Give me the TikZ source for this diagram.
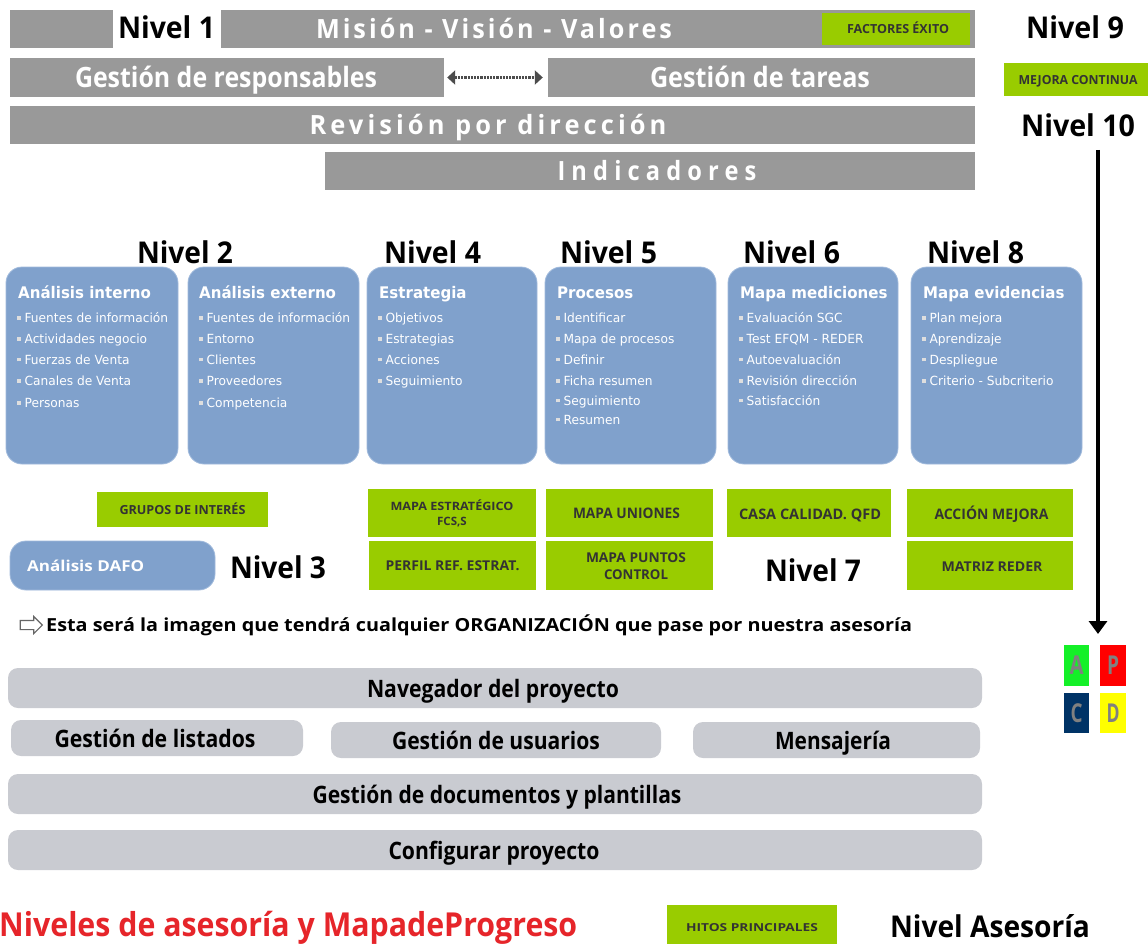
\documentclass[tikz,border=0pt]{standalone}
\usepackage{graphicx}
\usepackage{fontspec}
\setmainfont{Open Sans}
\newfontfamily\cardtitlef[FakeStretch=0.94]{DejaVu Sans}
\newfontfamily\carditemf[FakeStretch=0.97]{DejaVu Sans}
\newfontfamily\barf[LetterSpace=12]{Open Sans}
\usetikzlibrary{arrows.meta,shapes.arrows}

% colours
\definecolor{bargrey}{RGB}{153,153,153}
\definecolor{lime}{RGB}{153,204,0}
\definecolor{tagdark}{RGB}{51,51,51}
\definecolor{cardblue}{RGB}{128,161,204}
\definecolor{cardedge}{RGB}{160,186,220}
\definecolor{bulgrey}{RGB}{222,222,222}
\definecolor{navgrey}{RGB}{201,203,209}
\definecolor{titlered}{RGB}{230,37,42}
\definecolor{pdcaA}{RGB}{20,240,40}
\definecolor{pdcaP}{RGB}{255,0,0}
\definecolor{pdcaC}{RGB}{0,51,102}
\definecolor{pdcaD}{RGB}{255,255,0}
\definecolor{pdcaletter}{RGB}{128,128,128}

% squeeze or widen a text horizontally to a given width (in pt)
\newlength\fitlen
\newcommand\fitw[2]{\settowidth{\fitlen}{#2}\scalebox{\fpeval{#1/\fitlen}}[1]{#2}}
\newcommand\cardbullet{\textcolor{bulgrey}{\rule[2.7pt]{3.6pt}{3.6pt}}\hspace{3.8pt}}

\tikzset{
  bar/.style={fill=bargrey, inner sep=0pt},
  bartext/.style={text=white, inner sep=0pt, anchor=base, font=\barf\bfseries\fontsize{26.5}{28}\selectfont},
  bigbar/.style={text=white, inner sep=0pt, anchor=base, font=\bfseries\fontsize{28}{30}\selectfont},
  level/.style={inner sep=0pt, anchor=base, font=\bfseries\fontsize{30}{32}\selectfont},
  tagbox/.style={fill=lime, inner sep=0pt},
  tagtext/.style={text=tagdark, inner sep=0pt, anchor=base, font=\bfseries\fontsize{#1}{#1}\selectfont},
  card/.style={fill=cardblue, draw=cardedge, line width=0.8pt, rounded corners=16pt, inner sep=0pt},
  cardtitle/.style={text=white, inner sep=0pt, anchor=base west, font=\cardtitlef\bfseries\fontsize{16}{18}\selectfont},
  carditem/.style={text=white, inner sep=0pt, anchor=base west, font=\carditemf\fontsize{12.6}{14}\selectfont},
  navbox/.style={fill=navgrey, rounded corners=10pt, inner sep=0pt},
  navtext/.style={inner sep=0pt, anchor=base, font=\bfseries\fontsize{24}{26}\selectfont},
  pdcabox/.style={inner sep=0pt, text=pdcaletter, font=\bfseries\fontsize{26}{26}\selectfont},
  link/.style={densely dotted, line width=2.2pt, draw=black!70,
    arrows={Triangle[width=14pt,length=8pt]-Triangle[width=14pt,length=8pt]},
    shorten <=3pt, shorten >=5pt},
  flow/.style={line width=4pt, arrows={-Triangle[width=18pt,length=13pt]}},
}

\begin{document}
\begin{tikzpicture}[x=1pt, y=-1pt]
\useasboundingbox (0,0) rectangle (1148,943);
\fill[white] (0,0) rectangle (1148,943);

% ---------- top band ----------
\node[bar, minimum width=103, minimum height=38] (b0) at (61.5,29) {};
\node[level] (n1) at (166.5,38.5) {\fitw{97}{Nivel 1}};
\node[bar, minimum width=754, minimum height=38] (mvv) at (598,29) {};
\node[bartext] (mvvt) at (494,38.5) {\fitw{356}{Misión - Visión - Valores}};
\node[tagbox, minimum width=148, minimum height=32] (fe) at (896,29) {};
\node[tagtext=12.5] (fet) at (898,33.5) {\fitw{102}{FACTORES ÉXITO}};
\node[level] (n9) at (1075,38.5) {\fitw{98}{Nivel 9}};

\node[bar, minimum width=434, minimum height=39] (gr) at (227,77.5) {};
\node[bigbar] (grt) at (226,87.5) {\fitw{302}{Gestión de responsables}};
\node[bar, minimum width=427, minimum height=39] (gt) at (761.5,77.5) {};
\node[bigbar] (gtt) at (760,87.5) {\fitw{220}{Gestión de tareas}};
\draw[link] (gr) -- (gt);
\node[tagbox, minimum width=144, minimum height=33] (mc) at (1076,79.5) {};
\node[tagtext=12.5] (mct) at (1078,84) {\fitw{119}{MEJORA CONTINUA}};

\node[bar, minimum width=965, minimum height=38] (rd) at (492.5,125) {};
\node[bartext] (rdt) at (488,134.5) {\addfontfeatures{LetterSpace=16}\fitw{357}{Revisión por dirección}};
\node[level] (n10) at (1078,136.5) {\fitw{114}{Nivel 10}};

\node[bar, minimum width=650, minimum height=38] (ind) at (650,171) {};
\node[bartext] (indt) at (657,180.5) {\addfontfeatures{LetterSpace=26}\fitw{199}{Indicadores}};

% ---------- level headings ----------
\node[level] (n2) at (185,263.5) {\fitw{96}{Nivel 2}};
\node[level] (n4) at (432.5,263.5) {\fitw{97}{Nivel 4}};
\node[level] (n5) at (608.5,263.5) {\fitw{97}{Nivel 5}};
\node[level] (n6) at (791.5,263.5) {\fitw{97}{Nivel 6}};
\node[level] (n8) at (975.5,263.5) {\fitw{97}{Nivel 8}};

% ---------- cards ----------
\node[card, minimum width=172, minimum height=197] (c1) at (92,365.5) {};
\node[card, minimum width=171, minimum height=197] (c2) at (273.5,365.5) {};
\node[card, minimum width=170, minimum height=197] (c3) at (452,365.5) {};
\node[card, minimum width=171, minimum height=197] (c4) at (630.5,365.5) {};
\node[card, minimum width=170, minimum height=197] (c5) at (813,365.5) {};
\node[card, minimum width=171, minimum height=197] (c6) at (996.5,365.5) {};

\node[cardtitle] (c1t) at (18,298.3) {Análisis interno};
\node[cardtitle] (c2t) at (199,298.3) {Análisis externo};
\node[cardtitle] (c3t) at (379,298.3) {Estrategia};
\node[cardtitle] (c4t) at (557,298.3) {Procesos};
\node[cardtitle] (c5t) at (740,298.3) {Mapa mediciones};
\node[cardtitle] (c6t) at (923,298.3) {Mapa evidencias};

\foreach \yy/\t [count=\k] in {322.7/Fuentes de información, 343.3/Actividades negocio,
    364/Fuerzas de Venta, 385.7/Canales de Venta, 407.3/Personas}
  \node[carditem] (c1i\k) at (17,\yy) {\cardbullet\t};
\foreach \yy/\t [count=\k] in {322.7/Fuentes de información, 343.3/Entorno,
    364/Clientes, 385.7/Proveedores, 407.3/Competencia}
  \node[carditem] (c2i\k) at (199,\yy) {\cardbullet\t};
\foreach \yy/\t [count=\k] in {322.7/Objetivos, 343.3/Estrategias,
    364/Acciones, 385.7/Seguimiento}
  \node[carditem] (c3i\k) at (378,\yy) {\cardbullet\t};
\foreach \yy/\t [count=\k] in {322.7/Identificar, 343.3/Mapa de procesos,
    364/Definir, 385.7/Ficha resumen, 405/Seguimiento, 424/Resumen}
  \node[carditem] (c4i\k) at (556,\yy) {\cardbullet\t};
\foreach \yy/\t [count=\k] in {322.7/Evaluación SGC, 343.3/Test EFQM - REDER,
    364/Autoevaluación, 385.7/Revisión dirección, 405/Satisfacción}
  \node[carditem] (c5i\k) at (739,\yy) {\cardbullet\t};
\foreach \yy/\t [count=\k] in {322.7/Plan mejora, 343.3/Aprendizaje,
    364/Despliegue, 385.7/Criterio - Subcriterio}
  \node[carditem] (c6i\k) at (922,\yy) {\cardbullet\t};

% ---------- milestone tags ----------
\node[tagbox, minimum width=171, minimum height=35] (gi) at (182.5,509.5) {};
\node[tagtext=12.5] (git) at (182.5,514) {\fitw{126}{GRUPOS DE INTERÉS}};

\node[tagbox, minimum width=168, minimum height=48] (me) at (452,513) {};
\node[tagtext=11.5] (met1) at (452,510) {\fitw{123}{MAPA ESTRATÉGICO}};
\node[tagtext=11.5] (met2) at (452,525) {FCS,S};
\node[tagbox, minimum width=167, minimum height=49] (pr) at (452.5,565.5) {};
\node[tagtext=13.5] (prt) at (452.5,570.3) {\fitw{134}{PERFIL REF. ESTRAT.}};

\node[tagbox, minimum width=167, minimum height=48] (mu) at (629.5,513) {};
\node[tagtext=14.5] (mut) at (626.5,518) {\fitw{107}{MAPA UNIONES}};
\node[tagbox, minimum width=167, minimum height=49] (mp) at (629.5,565.5) {};
\node[tagtext=13.5] (mpt1) at (636,562.8) {\fitw{100}{MAPA PUNTOS}};
\node[tagtext=13.5] (mpt2) at (636,579.8) {\fitw{64}{CONTROL}};

\node[tagbox, minimum width=164, minimum height=48] (cc) at (809,513) {};
\node[tagtext=14.5] (cct) at (810,519.5) {\fitw{142}{CASA CALIDAD. QFD}};

\node[tagbox, minimum width=166, minimum height=48] (am) at (990,513) {};
\node[tagtext=14.5] (amt) at (991.5,519.5) {\fitw{114}{ACCIÓN MEJORA}};
\node[tagbox, minimum width=166, minimum height=49] (mr) at (990,565.5) {};
\node[tagtext=13.5] (mrt) at (992,571) {\fitw{101}{MATRIZ REDER}};

% ---------- level 3 / 7 ----------
\node[card, minimum width=205, minimum height=49] (dafo) at (112.5,565.5) {};
\node[inner sep=0pt, anchor=base west, text=white, font=\bfseries\fontsize{15}{17}\selectfont]
  (dafot) at (27,571.5) {\fitw{117}{Análisis DAFO}};
\node[level] (n3) at (278,578.5) {\fitw{96}{Nivel 3}};
\node[level] (n7) at (813,581.5) {\fitw{96}{Nivel 7}};

% ---------- note line ----------
\node[draw=black!60, line width=1.1pt, single arrow, single arrow head extend=4pt,
  minimum height=22pt, inner sep=4pt] (ico) at (29,625) {};
\node[inner sep=0pt, anchor=base west, font=\bfseries\fontsize{18}{20}\selectfont] (note) at (46,631.5)
  {\fitw{866}{Esta será la imagen que tendrá cualquier ORGANIZACIÓN que pase por nuestra asesoría}};

% ---------- PDCA ----------
\node[pdcabox, fill=pdcaA, minimum width=25, minimum height=41] (pA) at (1076.5,665.5) {\fitw{14}{A}};
\node[pdcabox, fill=pdcaP, minimum width=26, minimum height=41] (pP) at (1113,665.5) {\fitw{12}{P}};
\node[pdcabox, fill=pdcaC, minimum width=25, minimum height=40] (pC) at (1076.5,713) {\fitw{12}{C}};
\node[pdcabox, fill=pdcaD, minimum width=26, minimum height=40] (pD) at (1113,713) {\fitw{13}{D}};
\coordinate (pdcatop) at (1098,634);
\draw[flow, shorten <=13pt] (pdcatop |- n10.south) -- (pdcatop);

% ---------- navigation blocks ----------
\node[navbox, minimum width=974, minimum height=40] (nav) at (495,688) {};
\node[navtext] (navt) at (493,697) {\fitw{252}{Navegador del proyecto}};
\node[navbox, minimum width=292, minimum height=36] (gl) at (157,738) {};
\node[navtext] (glt) at (155,747) {\fitw{201}{Gestión de listados}};
\node[navbox, minimum width=330, minimum height=36] (gu) at (496,740) {};
\node[navtext] (gut) at (496,749) {\fitw{208}{Gestión de usuarios}};
\node[navbox, minimum width=287, minimum height=36] (ms) at (836.5,740) {};
\node[navtext] (mst) at (833,749) {\fitw{116}{Mensajería}};
\node[navbox, minimum width=974, minimum height=40] (gd) at (495,794) {};
\node[navtext] (gdt) at (497,803) {\fitw{369}{Gestión de documentos y plantillas}};
\node[navbox, minimum width=974, minimum height=40] (cp) at (495,850) {};
\node[navtext] (cpt) at (494,859) {\fitw{211}{Configurar proyecto}};

% ---------- footer ----------
\node[inner sep=0pt, anchor=base west, text=titlered, font=\bfseries\fontsize{33}{35}\selectfont]
  (title) at (-1,936) {\fitw{578}{Niveles de asesoría y MapadeProgreso}};
\node[tagbox, minimum width=170, minimum height=42] (hitos) at (752,926) {};
\node[tagtext=11] (hitost) at (752,931) {\fitw{132}{HITOS PRINCIPALES}};
\node[inner sep=0pt, anchor=base, font=\bfseries\fontsize{30}{32}\selectfont]
  (nase) at (990,937) {\fitw{200}{Nivel Asesoría}};
\end{tikzpicture}
\end{document}
